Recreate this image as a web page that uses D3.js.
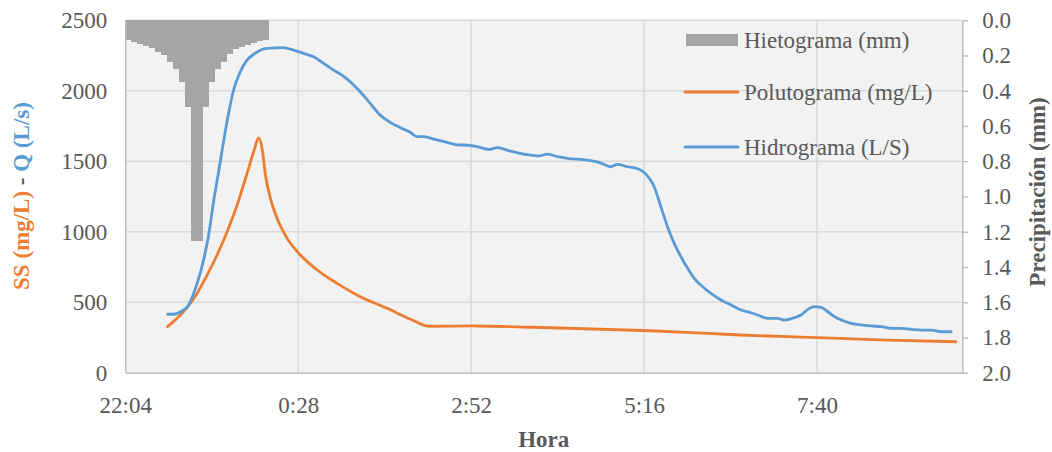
<!DOCTYPE html>
<html>
<head>
<meta charset="utf-8">
<script src="https://cdn.jsdelivr.net/npm/d3@7"></script>
<style>
  html, body { margin: 0; padding: 0; background: #ffffff; }
  svg { display: block; }
  svg text { font-family: "Liberation Serif", "Times New Roman", serif !important; }
</style>
</head>
<body>
<svg id="chart" width="1052" height="452"></svg>
<script>
// ---------------- DATA ----------------
// time axis labels (clock time); the axis starts at the first label
const xTickLabels = ["22:04", "0:28", "2:52", "5:16", "7:40"];
const leftTickValues = [0, 500, 1000, 1500, 2000, 2500];
const rightTickValues = [0.0, 0.2, 0.4, 0.6, 0.8, 1.0, 1.2, 1.4, 1.6, 1.8, 2.0];

// Hietograma: 5-minute blocks, minutes after 22:04, depth in mm
const hietoMin = [0, 5, 10, 15, 20, 25, 30, 35, 40, 45, 50, 55,
                  60, 65, 70, 75, 80, 85, 90, 95, 100, 105, 110, 115];
const hietoMm = [0.11, 0.125, 0.135, 0.145, 0.16, 0.18, 0.20, 0.235, 0.275, 0.35, 0.495, 1.25,
                 1.25, 0.495, 0.35, 0.275, 0.235, 0.19, 0.165, 0.15, 0.14, 0.13, 0.12, 0.11];
const hietoStep = 5;

// Hidrograma (L/s): minutes after 22:04
const hidroMin = [35.2, 40.2, 47.2, 52.8, 56.9, 61.1, 65.2, 69.4, 73.5, 77.7, 81.8, 86.0,
  90.2, 95.7, 101.3, 108.1, 117.9, 131.8, 140.1, 148.4, 156.8, 165.1, 173.4, 180.4,
  187.3, 195.6, 204.0, 212.3, 220.6, 229.0, 237.3, 242.9, 248.5, 256.8, 267.9, 277.6,
  281.8, 292.9, 302.8, 309.8, 320.6, 333.1, 344.4, 351.4, 359.8, 368.1, 384.8, 395.6,
  404.2, 409.8, 418.1, 427.8, 432.0, 437.5, 440.4, 446.0, 451.5, 457.1, 462.7, 468.3,
  473.8, 480.8, 487.7, 496.1, 504.4, 512.7, 521.0, 526.6, 535.0, 543.3, 548.8, 557.2,
  562.7, 568.3, 573.9, 579.5, 585.0, 590.6, 596.2, 604.5, 612.8, 621.2, 629.5, 637.8,
  646.2, 654.5, 662.8, 671.2, 679.5, 687.8];
const hidroQ = [415, 415, 438, 481, 563, 670, 800, 977, 1213, 1426, 1638, 1840,
  2005, 2134, 2217, 2265, 2300, 2305, 2288, 2265, 2241, 2194, 2146, 2111,
  2064, 1993, 1910, 1827, 1776, 1738, 1705, 1674, 1674, 1657, 1634, 1615,
  1615, 1603, 1584, 1596, 1572, 1549, 1537, 1551, 1532, 1520, 1508, 1489,
  1461, 1478, 1461, 1443, 1420, 1365, 1319, 1177, 1036, 918, 823, 741,
  670, 610, 563, 516, 481, 445, 426, 410, 386, 386, 374, 391,
  410, 450, 469, 464, 433, 398, 374, 351, 339, 332, 327, 315,
  315, 308, 303, 303, 291, 291];

// Polutograma (mg/L): minutes after 22:04
const poluMin = [35.2, 43.1, 51.4, 59.8, 68.1, 76.4, 84.8, 93.1, 101.4, 106.9, 111.1,
  113.9, 116.7, 120.8, 126.4, 134.8, 145.8, 159.8, 176.4, 195.8, 218.0, 237.5, 252.8,
  291.7, 340.3, 437.5, 512.5, 595.8, 634.8, 691.7];
const poluSS = [327, 386, 462, 563, 693, 835, 1000, 1189, 1414, 1567, 1665,
  1591, 1402, 1237, 1095, 953, 835, 729, 634, 539, 457, 380, 330,
  332, 323, 298, 268, 244, 232, 220];

const xEndMin = 697;

// ---------------- CHART ----------------
const svg = d3.select("#chart");
const FONT = "'Liberation Serif', 'Times New Roman', serif";
const M = { left: 125.3, right: 962.3, top: 20.2, bottom: 372.8 };
const C = {
  grid: "#d9d9d9", axis: "#bfbfbf", text: "#595959",
  plotBg: "#f2f2f2", bar: "#a5a5a5", blue: "#5b9bd5", orange: "#ed7d31"
};

function clockToOffset(label, start) {
  const [h, m] = label.split(":").map(Number);
  let mins = h * 60 + m - start;
  if (mins < 0) mins += 1440;
  return mins;
}
const [h0, m0] = xTickLabels[0].split(":").map(Number);
const startClock = h0 * 60 + m0;
const xTickValues = xTickLabels.map(l => clockToOffset(l, startClock));

const x = d3.scaleLinear().domain([0, xEndMin]).range([M.left, M.right]);
const y = d3.scaleLinear().domain([0, 2500]).range([M.bottom, M.top]);
const y2 = d3.scaleLinear().domain([0, 2]).range([M.top, M.bottom]);

// plot background
svg.append("rect")
  .attr("x", M.left).attr("y", M.top)
  .attr("width", M.right - M.left).attr("height", M.bottom - M.top)
  .attr("fill", C.plotBg);

// gridlines
const grid = svg.append("g");
grid.selectAll("line.h").data(leftTickValues.filter(v => v > 0)).join("line")
  .attr("x1", M.left).attr("x2", M.right)
  .attr("y1", d => y(d)).attr("y2", d => y(d))
  .attr("stroke", C.grid).attr("stroke-width", 1.5);
grid.selectAll("line.v").data(xTickValues.filter(v => v > 0)).join("line")
  .attr("x1", d => x(d)).attr("x2", d => x(d))
  .attr("y1", M.top).attr("y2", M.bottom)
  .attr("stroke", C.grid).attr("stroke-width", 1.5);

// hyetograph bars (reversed secondary axis)
svg.append("g").selectAll("rect").data(hietoMin).join("rect")
  .attr("x", (d) => x(d))
  .attr("y", y2(0))
  .attr("width", (d) => x(d + hietoStep) - x(d))
  .attr("height", (d, i) => y2(hietoMm[i]) - y2(0))
  .attr("fill", C.bar)
  .attr("shape-rendering", "crispEdges");

// lines
const lineGen = d3.line().x(d => x(d[0])).y(d => y(d[1])).curve(d3.curveMonotoneX);
svg.append("path")
  .datum(poluMin.map((t, i) => [t, poluSS[i]]))
  .attr("d", lineGen)
  .attr("fill", "none").attr("stroke", C.orange)
  .attr("stroke-width", 2.8).attr("stroke-linecap", "round").attr("stroke-linejoin", "round");
svg.append("path")
  .datum(hidroMin.map((t, i) => [t, hidroQ[i]]))
  .attr("d", lineGen)
  .attr("fill", "none").attr("stroke", C.blue)
  .attr("stroke-width", 2.8).attr("stroke-linecap", "round").attr("stroke-linejoin", "round");

// axes
const fs = 23;
function styleAxis(g) {
  g.attr("font-family", FONT).attr("font-size", fs);
  g.select(".domain").attr("stroke", C.axis).attr("stroke-width", 1.5);
  g.selectAll(".tick line").attr("stroke", C.axis).attr("stroke-width", 1.5);
  g.selectAll("text").attr("fill", C.text).attr("font-family", FONT).attr("font-size", fs);
}
const leftAxis = d3.axisLeft(y).tickValues(leftTickValues).tickFormat(d3.format("d"))
  .tickSize(0).tickPadding(18);
svg.append("g").attr("transform", `translate(${M.left},0)`).call(leftAxis).call(styleAxis);

const bottomAxis = d3.axisBottom(x).tickValues(xTickValues)
  .tickFormat((d, i) => xTickLabels[i]).tickSize(0).tickPadding(24);
svg.append("g").attr("transform", `translate(0,${M.bottom})`).call(bottomAxis).call(styleAxis);

const rightAxis = d3.axisRight(y2).tickValues(rightTickValues)
  .tickFormat(d3.format(".1f")).tickSize(6).tickSizeOuter(0).tickPadding(14);
svg.append("g").attr("transform", `translate(${M.right},0)`).call(rightAxis).call(styleAxis);

// axis titles
svg.append("text")
  .attr("x", (M.left + M.right) / 2).attr("y", 447)
  .attr("text-anchor", "middle").attr("font-family", FONT)
  .attr("fill", C.text).attr("font-weight", "bold").attr("font-size", 23)
  .text("Hora");

const lt = svg.append("text")
  .attr("transform", `translate(29,196) rotate(-90)`)
  .attr("text-anchor", "middle").attr("font-family", FONT)
  .attr("font-weight", "bold").attr("font-size", 23);
lt.append("tspan").attr("fill", C.orange).text("SS (mg/L)");
lt.append("tspan").attr("fill", C.text).text(" - ");
lt.append("tspan").attr("fill", C.blue).text("Q (L/s)");

svg.append("text")
  .attr("transform", `translate(1045,192) rotate(-90)`)
  .attr("text-anchor", "middle").attr("font-family", FONT)
  .attr("fill", C.text).attr("font-weight", "bold").attr("font-size", 23)
  .text("Precipitación (mm)");

// legend
const legend = svg.append("g");
const legItems = [
  { name: "Hietograma (mm)", type: "bar", color: C.bar, cy: 40 },
  { name: "Polutograma (mg/L)", type: "line", color: C.orange, cy: 92 },
  { name: "Hidrograma (L/S)", type: "line", color: C.blue, cy: 147 }
];
legItems.forEach(it => {
  if (it.type === "bar") {
    legend.append("rect").attr("x", 686).attr("y", it.cy - 6).attr("width", 52).attr("height", 12)
      .attr("fill", it.color);
  } else {
    legend.append("line").attr("x1", 685).attr("x2", 738).attr("y1", it.cy).attr("y2", it.cy)
      .attr("stroke", it.color).attr("stroke-width", 3).attr("stroke-linecap", "round");
  }
  legend.append("text").attr("x", 744).attr("y", it.cy).attr("dy", "0.35em")
    .attr("font-family", FONT).attr("fill", C.text).attr("font-size", 23).text(it.name);
});
</script>
</body>
</html>
